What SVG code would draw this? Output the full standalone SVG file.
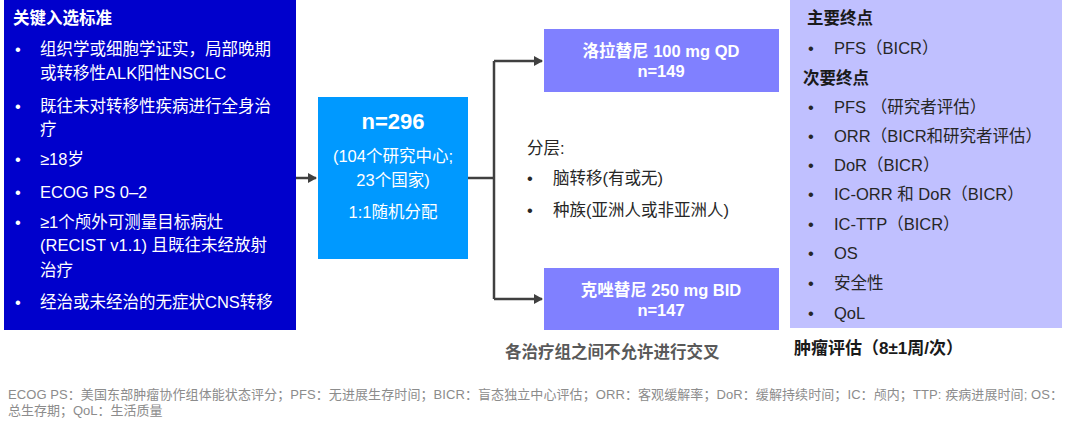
<svg xmlns="http://www.w3.org/2000/svg" width="1080" height="426" viewBox="0 0 1080 426">
<defs>
<marker id="ah" markerWidth="10" markerHeight="10" refX="8" refY="5" orient="auto" markerUnits="userSpaceOnUse">
<path d="M0,0 L9,5 L0,10 z" fill="#404040"/>
</marker>
<style>
text{font-family:"Liberation Sans","Noto Sans CJK SC",sans-serif;}
.w{fill:#fff;font-size:16.5px;}
.wb{fill:#fff;font-size:16.5px;font-weight:bold;}
.d{fill:#262626;font-size:16.5px;}
.db{fill:#1a1a1a;font-size:16.5px;font-weight:bold;}
.c{text-anchor:middle;}
.conn{fill:none;stroke:#404040;stroke-width:2.5;}
.foot{fill:#8c8c8c;font-size:13px;}
</style>
</defs>
<rect width="1080" height="426" fill="#fff"/>
<g id="criteria">
<rect x="4" y="0" width="292" height="330" fill="#0000CC"/>
<text class="wb" x="13" y="24">关键入选标准</text>
<g class="w">
<text x="15" y="55">•</text><text x="40" y="55">组织学或细胞学证实，局部晚期</text>
<text x="40" y="79">或转移性ALK阳性NSCLC</text>
<text x="15" y="112">•</text><text x="40" y="112">既往未对转移性疾病进行全身治</text>
<text x="40" y="135">疗</text>
<text x="15" y="165">•</text><text x="40" y="165">≥18岁</text>
<text x="15" y="198">•</text><text x="40" y="198">ECOG PS 0–2</text>
<text x="15" y="228">•</text><text x="40" y="228">≥1个颅外可测量目标病灶</text>
<text x="40" y="251">(RECIST v1.1) 且既往未经放射</text>
<text x="40" y="276">治疗</text>
<text x="15" y="308">•</text><text x="40" y="308">经治或未经治的无症状CNS转移</text>
</g>
</g>
<g id="randomization">
<rect x="318" y="97" width="150" height="162" fill="#0099FF"/>
<text class="wb c" x="393" y="129" style="font-size:22px">n=296</text>
<text class="w c" x="393" y="162">(104个研究中心;</text>
<text class="w c" x="393" y="186">23个国家)</text>
<text class="w c" x="393" y="218">1:1随机分配</text>
</g>
<g id="lorlatinib">
<rect x="544" y="29" width="235" height="63" fill="#8080FF"/>
<text class="wb c" x="661" y="57">洛拉替尼 100 mg QD</text>
<text class="wb c" x="661" y="77">n=149</text>
</g>
<g id="crizotinib">
<rect x="544" y="268" width="235" height="62" fill="#8080FF"/>
<text class="wb c" x="661" y="296">克唑替尼 250 mg BID</text>
<text class="wb c" x="661" y="316">n=147</text>
</g>
<g id="stratification">
<text class="d" x="527" y="154">分层:</text>
<text class="d" x="527" y="184">•</text><text class="d" x="553" y="184">脑转移(有或无)</text>
<text class="d" x="527" y="216">•</text><text class="d" x="553" y="216">种族(亚洲人或非亚洲人)</text>
</g>
<g id="endpoints">
<rect x="790" y="0" width="272" height="328" fill="#C0C0FF"/>
<text class="db" x="807" y="24">主要终点</text>
<text class="d" x="808" y="54">•</text><text class="d" x="834" y="54">PFS（BICR）</text>
<text class="db" x="803" y="84">次要终点</text>
<text class="d" x="808" y="113">•</text><text class="d" x="834" y="113">PFS （研究者评估）</text>
<text class="d" x="808" y="142">•</text><text class="d" x="834" y="142">ORR（BICR和研究者评估）</text>
<text class="d" x="808" y="171">•</text><text class="d" x="834" y="171">DoR（BICR）</text>
<text class="d" x="808" y="200">•</text><text class="d" x="834" y="200">IC-ORR 和 DoR（BICR）</text>
<text class="d" x="808" y="230">•</text><text class="d" x="834" y="230">IC-TTP（BICR）</text>
<text class="d" x="808" y="259">•</text><text class="d" x="834" y="259">OS</text>
<text class="d" x="808" y="289">•</text><text class="d" x="834" y="289">安全性</text>
<text class="d" x="808" y="319">•</text><text class="d" x="834" y="319">QoL</text>
</g>
<g id="assessment">
<text class="db" x="794" y="354" style="font-size:17px">肿瘤评估（8±1周/次）</text>
</g>
<g id="crossover">
<text x="505" y="358" style="fill:#595959;font-size:16.5px;font-weight:bold">各治疗组之间不允许进行交叉</text>
</g>
<g id="connectors">
<path class="conn" d="M296,178 H316" marker-end="url(#ah)"/>
<path class="conn" d="M468,178 H494"/>
<path class="conn" d="M494,61 V299"/>
<path class="conn" d="M494,61 H542" marker-end="url(#ah)"/>
<path class="conn" d="M494,299 H542" marker-end="url(#ah)"/>
</g>
<g id="footnote">
<text class="foot" x="8" y="399" textLength="1055" lengthAdjust="spacing">ECOG PS：美国东部肿瘤协作组体能状态评分；PFS：无进展生存时间；BICR：盲态独立中心评估；ORR：客观缓解率；DoR：缓解持续时间；IC：颅内；TTP: 疾病进展时间; OS：</text>
<text class="foot" x="8" y="415">总生存期；QoL：生活质量</text>
</g>
</svg>
